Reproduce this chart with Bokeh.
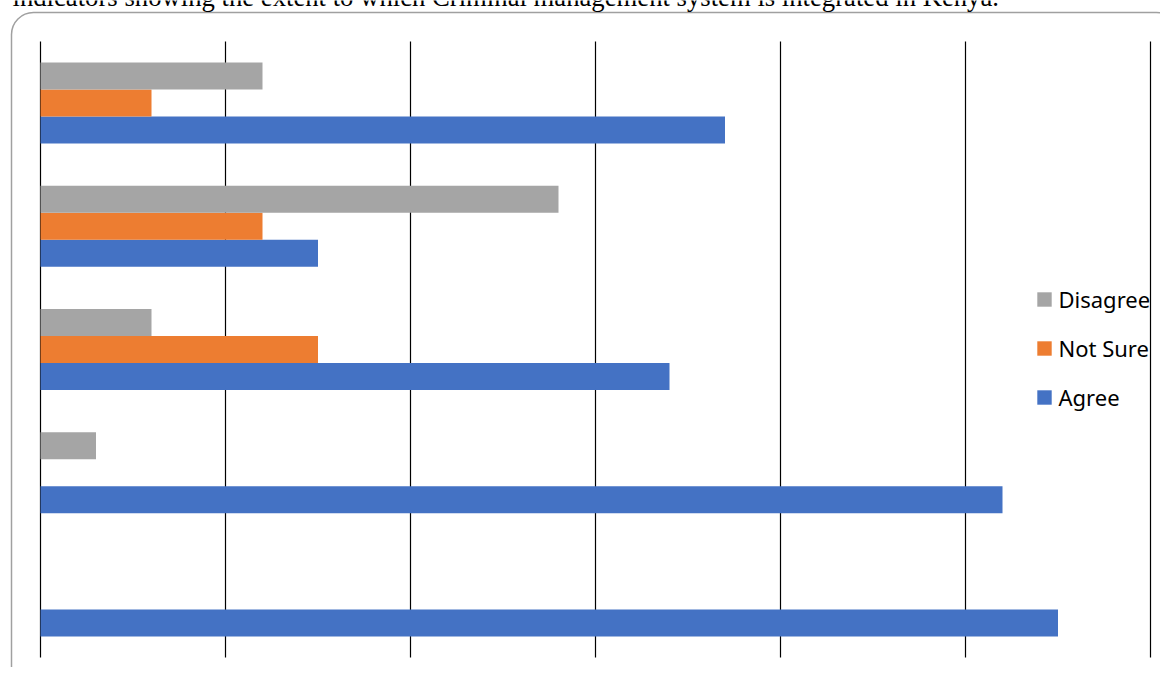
from bokeh.plotting import figure
from bokeh.models import Range1d, Legend, LegendItem, Label, ColumnDataSource
from bokeh.transform import dodge
from bokeh.embed import file_html
from bokeh.resources import INLINE

# ---- data (first category is drawn at the bottom) ----
categories = ["Indicator 1", "Indicator 2", "Indicator 3", "Indicator 4", "Indicator 5"]
agree = [110, 104, 68, 30, 74]
not_sure = [0, 0, 30, 24, 12]
disagree = [0, 6, 12, 56, 24]
x_ticks = [0, 20, 40, 60, 80, 100, 120]
series_names = ["Agree", "Not Sure", "Disagree"]
title_text = "indicators showing the extent to which Criminal management system is integrated in Kenya."

colors = {"Agree": "#4472C4", "Not Sure": "#ED7D31", "Disagree": "#A5A5A5"}

# ---- layout geometry (canvas pixels) ----
W, H = 1160, 667
plot_left, plot_right = 40.0, 1150.0       # pixel span of the value axis 0..120
plot_top, plot_bottom = 41.0, 657.0        # pixel span of the category band
n_cat = len(categories)
px_x = (plot_right - plot_left) / (x_ticks[-1] - x_ticks[0])
px_y = (plot_bottom - plot_top) / n_cat


def data_x(px):
    return x_ticks[0] + (px - plot_left) / px_x


def data_y(py):
    return (plot_bottom - py) / px_y


x_range = Range1d(data_x(0), data_x(W))
y_range = Range1d(data_y(H), data_y(0))

src = ColumnDataSource(dict(cat=categories, y=[i + 0.5 for i in range(n_cat)],
                            agree=agree, not_sure=not_sure, disagree=disagree))

p = figure(width=W, height=H, x_range=x_range, y_range=y_range,
           output_backend="svg", toolbar_location=None,
           x_axis_location=None, y_axis_location=None,
           min_border_left=0, min_border_right=0,
           min_border_top=0, min_border_bottom=0)

p.background_fill_color = "white"
p.border_fill_color = "white"
p.outline_line_color = None
p.xgrid.visible = False
p.ygrid.visible = False

# rounded chart-area border (extends past the right and bottom edges of the picture)
p.quad(left=[data_x(11)], right=[data_x(1178)], top=[data_y(12)], bottom=[data_y(690)],
       fill_color=None, line_color="#a0a0a0", line_width=1.5, border_radius=22)

# vertical gridlines at the value ticks, spanning the category band
p.segment(x0=x_ticks, x1=x_ticks, y0=[0] * len(x_ticks), y1=[n_cat] * len(x_ticks),
          line_color="#000000", line_width=1.2)

bar_h = 27.0 / px_y
offsets = {"Agree": -bar_h, "Not Sure": 0.0, "Disagree": bar_h}
fields = {"Agree": "agree", "Not Sure": "not_sure", "Disagree": "disagree"}

renderers = {}
for name in series_names:
    r = p.hbar(y=dodge("y", offsets[name]), left=0, right=fields[name],
               height=bar_h, source=src, fill_color=colors[name], line_color=None)
    renderers[name] = r

legend = Legend(items=[LegendItem(label=n, renderers=[renderers[n]]) for n in ["Disagree", "Not Sure", "Agree"]],
                location=(1034.5, 255), orientation="vertical",
                padding=0, margin=0, spacing=19, border_line_color=None,
                background_fill_alpha=0, glyph_width=18, glyph_height=18,
                label_height=30, label_standoff=6,
                label_text_font="Noto Sans", label_text_font_size="22px",
                label_text_color="#000000")
p.add_layout(legend)

title = Label(x=12, y=H + 4, x_units="screen", y_units="screen", text=title_text,
              text_font="Liberation Serif", text_font_size="26.7px",
              text_color="#000000", text_baseline="alphabetic")
p.add_layout(title)

open("out.html", "w").write(file_html(p, INLINE))
